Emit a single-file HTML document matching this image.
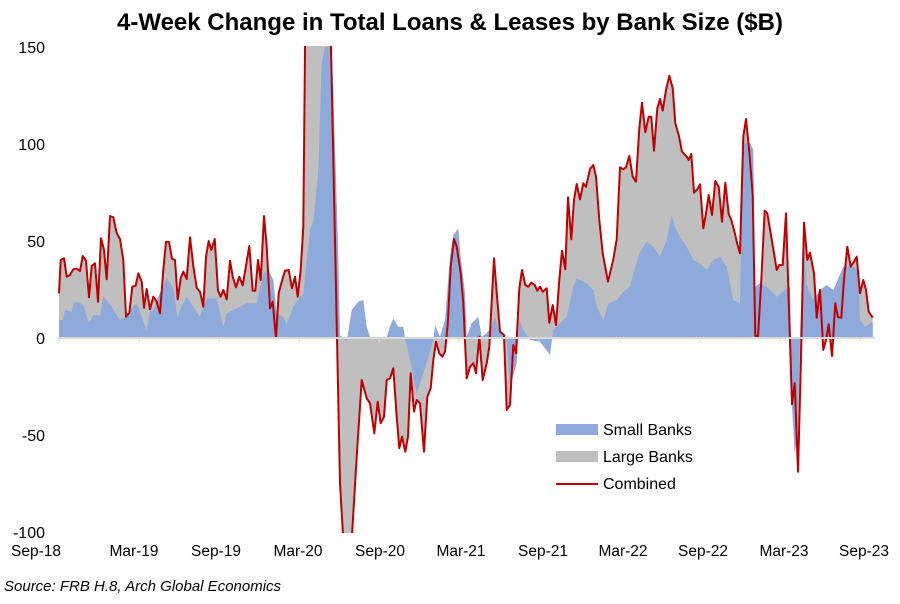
<!DOCTYPE html>
<html><head><meta charset="utf-8"><style>
body{margin:0;background:#fff;width:900px;height:599px;overflow:hidden;font-family:"Liberation Sans",sans-serif}
</style></head><body>
<svg id="s" width="900" height="599" xmlns="http://www.w3.org/2000/svg" font-family="Liberation Sans, sans-serif">
<defs><clipPath id="c"><rect x="50" y="46" width="840" height="487"/></clipPath></defs>
<text x="450" y="30" text-anchor="middle" font-size="24" font-weight="bold" fill="#000">4-Week Change in Total Loans &amp; Leases by Bank Size ($B)</text>
<g font-size="16" fill="#000" text-anchor="end">
<text x="45" y="53">150</text><text x="45" y="150">100</text><text x="45" y="247">50</text><text x="45" y="344">0</text><text x="45" y="441">-50</text><text x="45" y="538">-100</text>
</g>
<g font-size="15.5" fill="#000" text-anchor="middle">
<text x="36" y="556">Sep-18</text><text x="134" y="556">Mar-19</text><text x="216" y="556">Sep-19</text><text x="298" y="556">Mar-20</text><text x="380" y="556">Sep-20</text><text x="461" y="556">Mar-21</text><text x="543" y="556">Sep-21</text><text x="623" y="556">Mar-22</text><text x="703" y="556">Sep-22</text><text x="784" y="556">Mar-23</text><text x="864" y="556">Sep-23</text>
</g>
<text x="4" y="591" font-size="15" font-style="italic" fill="#000">Source: FRB H.8, Arch Global Economics</text>
<g id="plot" clip-path="url(#c)"></g>
<line x1="58" y1="338" x2="875" y2="338" stroke="#d9d9d9" stroke-width="2"/>
<g stroke="#d9d9d9" stroke-width="1">
<line x1="59" y1="338" x2="59" y2="343"/><line x1="139" y1="338" x2="139" y2="343"/><line x1="219" y1="338" x2="219" y2="343"/><line x1="299" y1="338" x2="299" y2="343"/><line x1="379" y1="338" x2="379" y2="343"/><line x1="459" y1="338" x2="459" y2="343"/><line x1="539" y1="338" x2="539" y2="343"/><line x1="620" y1="338" x2="620" y2="343"/><line x1="700" y1="338" x2="700" y2="343"/><line x1="780" y1="338" x2="780" y2="343"/><line x1="860" y1="338" x2="860" y2="343"/>
</g>
<g font-size="16" fill="#000">
<rect x="556" y="424" width="42" height="11" fill="#8eaadb"/><text x="603" y="435">Small Banks</text>
<rect x="556" y="451" width="42" height="11" fill="#bfbfbf"/><text x="603" y="462">Large Banks</text>
<line x1="556" y1="484" x2="598" y2="484" stroke="#c00000" stroke-width="2"/><text x="603" y="489">Combined</text>
</g>
</svg>
<script>
var z1c=[[57,760],[62,660],[72,655],[80,710],[90,705],[100,688],[110,686],[120,693],[128,648],[138,662],[147,772],[155,678],[165,670],[174,785],[183,595],[192,630],[200,718],[210,528],[220,532],[230,580],[240,597],[250,660],[258,830],[268,818],[277,740],[287,737],[295,700],[305,725],[312,803],[320,747],[330,808],[340,770],[350,785],[360,820],[370,690],[378,605],[387,606],[396,656],[405,660],[413,778],[422,715],[430,695],[440,717],[450,592],[460,678],[470,743],[480,755],[490,800],[498,650],[506,603],[514,630],[524,597],[534,752],[542,770],[550,750],[560,778],[570,662],[578,710],[588,742],[598,710],[608,736],[628,618],[638,752],[646,752],[654,660],[662,720],[672,528],[680,620],[690,805],[698,785],[708,895],[716,760],[724,730],[735,692],[746,690],[756,745],[765,710],[773,770],[782,690],[790,560],[796,-60],[860,-60],[872,-20],[900,1330],[910,1500],[935,1500],[950,1250],[965,1020],[980,1075],[990,1090],[1003,1180],[1013,1085],[1022,1150],[1032,1130],[1040,1020],[1050,1015],[1060,985],[1070,1130],[1078,1225],[1086,1190],[1096,1235],[1104,1190],[1112,1000],[1122,1115],[1130,1080],[1140,1090],[1152,1235],[1162,1070],[1172,1045],[1180,960],[1188,905],[1198,940],[1207,950],[1215,935],[1223,855],[1232,680],[1242,597],[1250,620],[1262,700]];
var z2c=[[10,790],[20,1015],[30,980],[40,970],[48,1000],[58,890],[68,1020],[80,970],[88,920],[102,655],[112,780],[120,875],[132,885],[140,1110],[150,1095],[160,915],[168,940],[178,745],[186,690],[196,735],[205,740],[214,728],[224,735],[232,752],[240,740],[248,755],[260,745],[268,848],[278,795],[288,855],[298,720],[306,632],[316,688],[324,472],[334,598],[342,480],[350,432],[360,478],[370,430],[378,440],[390,387],[400,375],[408,410],[418,540],[428,640],[444,725],[460,658],[470,598],[480,382],[490,388],[498,382],[508,348],[518,410],[528,425],[538,265],[546,188],[556,277],[566,230],[574,230],[582,332],[592,205],[600,177],[608,212],[618,150],[628,107],[638,145],[646,250],[656,285],[666,335],[680,350],[686,360],[694,342],[702,458],[712,448],[720,433],[730,565],[738,520],[746,465],[756,525],[766,423],[776,440],[786,545],[796,428],[806,522],[814,540],[824,578],[832,612],[840,640],[850,290],[858,237],[868,335],[878,465],[886,887],[894,890],[904,720],[914,512],[922,520],[932,580],[942,640],[950,690],[958,675],[968,675],[978,520],[986,780],[996,1093],[1004,1030],[1014,1295],[1022,990],[1032,548],[1042,660],[1050,638],[1062,700],[1070,833],[1080,750],[1090,930],[1098,900],[1106,853],[1116,948],[1126,790],[1134,832],[1144,833],[1152,718],[1162,620],[1172,680],[1180,668],[1190,650],[1200,760],[1210,720],[1218,750],[1226,815],[1238,833]];
var z1b=[[57,840],[68,840],[75,810],[95,815],[100,790],[110,785],[120,790],[130,795],[147,850],[160,825],[180,825],[190,770],[200,780],[215,800],[240,840],[258,830],[270,810],[290,790],[320,870],[330,815],[340,810],[355,770],[380,715],[400,745],[413,835],[420,810],[440,770],[460,800],[480,830],[500,775],[530,775],[550,860],[560,820],[580,810],[600,800],[620,790],[650,790],[670,700],[685,690],[700,720],[710,820],[730,830],[740,855],[760,800],[780,770],[790,765],[800,660],[810,570],[820,545],[835,390],[845,70],[855,20],[875,20],[888,410],[895,650],[900,885],[910,895],[920,905],[935,810],[955,785],[970,780],[980,860],[990,890],[1010,892],[1040,892],[1050,860],[1060,835],[1075,860],[1090,860],[1095,895],[1110,960],[1130,1060],[1150,1000],[1170,935],[1180,900],[1185,855],[1200,890],[1215,840],[1230,650],[1240,585],[1255,565],[1262,650]];
var z2b=[[15,760],[20,890],[35,850],[55,830],[65,890],[80,880],[95,860],[105,830],[115,870],[130,890],[140,900],[150,1040],[170,970],[178,840],[190,870],[210,900],[240,905],[270,945],[280,870],[300,850],[320,830],[340,740],[350,715],[380,730],[400,750],[410,800],[430,840],[445,790],[470,780],[490,755],[510,740],[520,700],[540,635],[560,605],[580,620],[600,650],[620,600],[635,525],[645,560],[660,590],[680,620],[700,660],[720,670],[740,690],[760,660],[780,650],[800,680],[820,780],[840,790],[850,310],[870,310],[880,330],[885,740],[900,730],[920,740],[950,770],[975,750],[990,740],[996,1100],[1004,1240],[1010,1200],[1020,900],[1030,590],[1040,735],[1060,780],[1080,750],[1100,735],[1120,750],[1150,680],[1180,680],[1195,690],[1200,840],[1215,860],[1238,845]];
function cv(a,ox){return a.map(function(p){return [(ox+p[0]/3).toFixed(1),(40+p[1]/3).toFixed(1)]})}
var C=cv(z1c,40).concat(cv(z2c,460)),B=cv(z1b,40).concat(cv(z2b,460));
function area(P,col){var d="M"+P[0][0]+",338 "+P.map(function(p){return "L"+p[0]+","+p[1]}).join(" ")+" L"+P[P.length-1][0]+",338Z";return '<path d="'+d+'" fill="'+col+'"/>'}
var line='<polyline points="'+C.map(function(p){return p.join(",")}).join(" ")+'" fill="none" stroke="#c00000" stroke-width="2" stroke-linejoin="round"/>';
document.getElementById("plot").innerHTML=area(C,"#bfbfbf")+area(B,"#8eaadb")+line;
</script>
</body></html>
